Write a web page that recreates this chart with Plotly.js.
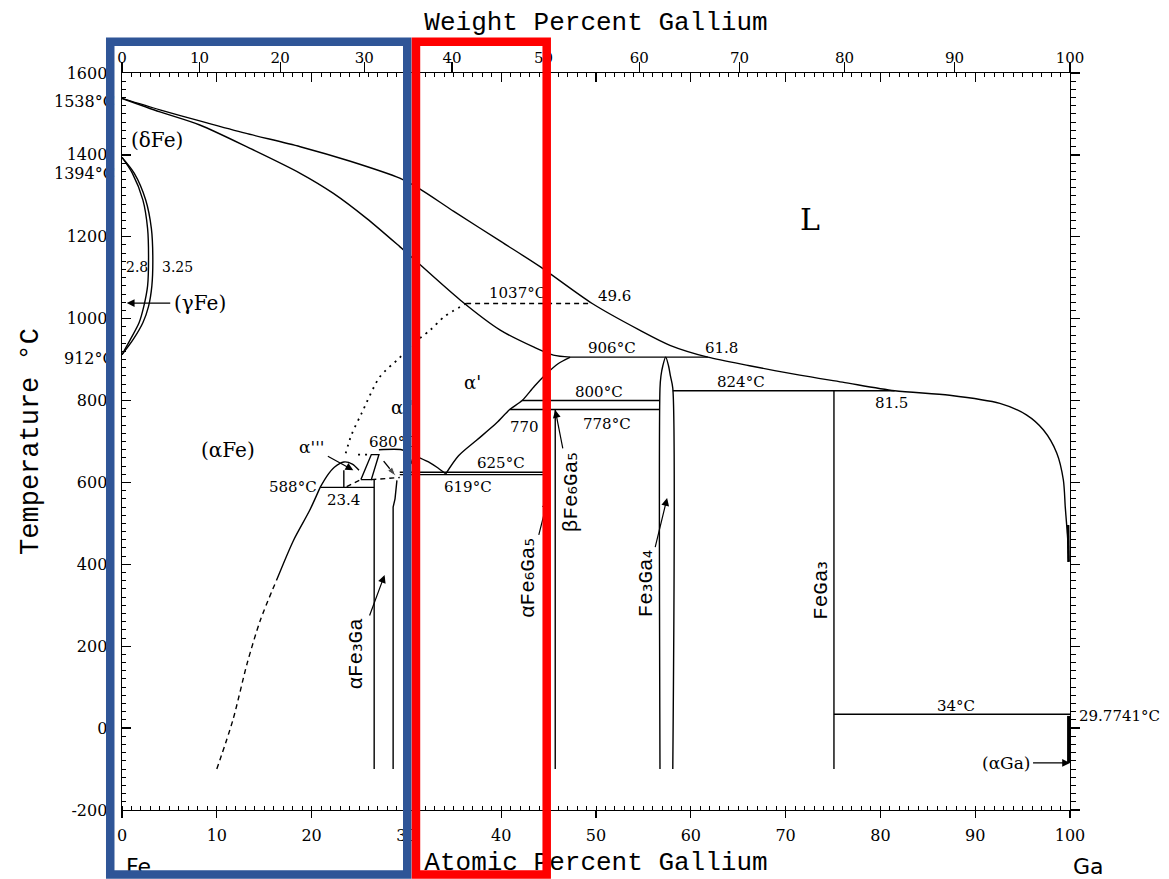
<!DOCTYPE html>
<html>
<head>
<meta charset="utf-8">
<script src="https://cdn.plot.ly/plotly-3.0.1.min.js"></script>
<style>html,body{margin:0;padding:0;background:#fff;}</style>
</head>
<body>
<div id="chart" style="width:1169px;height:879px;"></div>
<script>
// ---------- DATA (at.% Ga, temperature °C) ----------
const liquidusX = [0, 4, 8.2, 13, 18.8, 24, 29.3, 31.4, 35, 40, 44.1, 49.6, 54.6, 57.8, 61.8, 66.2, 71.5, 76, 81.5, 87.3, 92.6, 95.4, 97.2, 98.6, 99.3, 99.5, 99.65, 99.8, 99.85];
const liquidusT = [1538, 1510, 1483, 1453, 1420, 1385, 1343, 1317, 1262, 1188, 1127, 1037, 972, 935, 906, 885, 862, 845, 824, 813, 793, 765, 728, 672, 606, 540, 496, 450, 406];
const liqEndX = [99.8, 99.85], liqEndT = [496, 406];

const solidusX = [0, 4, 8.2, 13.5, 18.8, 22.3, 25.8, 29.3, 35.7, 39.9, 43.4, 45.5, 47.3];
const solidusT = [1538, 1505, 1473, 1416, 1355, 1306, 1245, 1176, 1045, 972, 931, 911, 906];

const gammaInX  = [0, 1.1, 2.2, 2.7, 2.8, 2.7, 2.3, 1.8, 0.9, 0];
const gammaOutX = [0, 1.3, 2.5, 3.1, 3.25, 3.15, 2.8, 2.2, 1.2, 0];
const gammaT    = [1394, 1355, 1290, 1220, 1150, 1080, 1030, 990, 950, 912];

const orderX = [36.3, 34, 32.5, 30.5, 29.3, 27.2, 25.3, 24.2, 23.5];
const orderT = [1037, 1005, 972, 935, 905, 858, 770, 716, 663];

const iso1037X = [36.3, 49.6], iso1037T = [1037, 1037];

const solvusDashX = [10.0, 11.7, 13.2, 14.6, 16.3];
const solvusDashT = [-100, 20, 158, 264, 361];
const solvusX = [16.3, 18.1, 19.8, 20.9];
const solvusT = [361, 459, 532, 588];
const domeA3X = [20.9, 21.6, 22.4, 23.4, 24.3, 25.0];
const domeA3T = [588, 615, 637, 650, 645, 630];

const iso588X = [20.9, 26.6], iso588T = [588, 588];
const comp234X = [23.4, 23.4], comp234T = [588, 630];
const dash607X = [23.7, 25.2], dash607T = [590, 607];
const trapX = [25.2, 26.3, 27.1, 26.3, 25.2];
const trapT = [607, 668, 668, 607, 607];
const dot668X = [24.9, 26.3], dot668T = [668, 668];
const low612X = [26.3, 29.3], low612T = [607, 612];
const iso680X = [27.1, 29.5, 30.0, 30.3, 30.6], iso680T = [680, 680, 675, 664, 645];
const fe3gaLeftX = [26.6, 26.6], fe3gaLeftT = [606, -100];
const fe3gaRightX = [29.0, 28.8, 28.6, 28.6], fe3gaRightT = [605, 560, 540, -100];
const domeRDotX = [30.8, 31.4], domeRDotT = [664, 660];
const domeRX = [31.4, 32.5, 33.3, 34.1], domeRT = [660, 648, 636, 622];
const pointerX = [27.6, 28.9], pointerT = [652, 615];

const iso625X = [29.3, 45.0], iso625T = [625, 625];
const iso619X = [29.3, 45.0], iso619T = [619, 619];
const alphaPrimeX = [34.1, 35.5, 37.4, 39.5, 40.9, 42.2, 43.5, 44.8, 46.0, 47.3];
const alphaPrimeT = [619, 665, 703, 745, 778, 800, 835, 866, 890, 906];

const aFe6Ga5X = [45.0, 45.0], aFe6Ga5T = [625, -100];
const bFe6Ga5X = [45.7, 45.7], bFe6Ga5T = [778, -100];
const iso800X = [42.2, 56.75], iso800T = [800, 800];
const iso778X = [40.9, 56.75], iso778T = [778, 778];
const iso906X = [47.3, 61.8], iso906T = [906, 906];
const fe3ga4X = [56.75, 56.75, 56.85, 57.05, 57.35, 57.65, 57.85, 58.1, 58.1];
const fe3ga4T = [-100, 830, 860, 885, 906, 885, 860, 830, -100];
const iso824X = [58.1, 81.5], iso824T = [824, 824];
const feGa3X = [75.1, 75.1], feGa3T = [824, -100];
const iso34X = [75.1, 100], iso34T = [34, 34];
const gaSolidX = [99.85, 99.85], gaSolidT = [29.8, -85];

const atTicks = [0, 10, 20, 30, 40, 50, 60, 70, 80, 90, 100];
const wtTicks = [0, 10, 20, 30, 40, 50, 60, 70, 80, 90, 100];
const tempTicks = [-200, 0, 200, 400, 600, 800, 1000, 1200, 1400, 1600];

// weight % -> atomic % conversion for the top axis (Fe 55.845, Ga 69.723)
const M_FE = 55.845, M_GA = 69.723;
function wtToAt(w) {
  const g = w / M_GA, f = (100 - w) / M_FE;
  return 100 * g / (g + f);
}

// ---------- TRACES ----------
const K = '#000';
const DASH = '5px,4px';
const DOT = '2px,5px';
function ln(x, y, opts) {
  opts = opts || {};
  return {
    type: 'scatter', mode: 'lines', x: x, y: y, hoverinfo: 'skip', showlegend: false,
    line: {color: K, width: opts.width || 1.4, dash: opts.dash || 'solid',
           shape: opts.spline ? 'spline' : 'linear', smoothing: 0.8}
  };
}
const pointer = ln(pointerX, pointerT);
pointer.mode = 'lines+markers';
pointer.marker = {symbol: 'arrow', angleref: 'previous', size: [0, 10], color: K};

const traces = [
  ln(liquidusX, liquidusT, {spline: true}),
  ln(liqEndX, liqEndT, {width: 2.6}),
  ln(solidusX, solidusT, {spline: true}),
  ln(gammaInX, gammaT, {spline: true}),
  ln(gammaOutX, gammaT, {spline: true}),
  ln(orderX, orderT, {spline: true, dash: DOT, width: 1.8}),
  ln(iso1037X, iso1037T, {dash: DASH}),
  ln(solvusDashX, solvusDashT, {spline: true, dash: DASH}),
  ln(solvusX, solvusT, {spline: true}),
  ln(domeA3X, domeA3T, {spline: true}),
  ln(iso588X, iso588T),
  ln(comp234X, comp234T),
  ln(dash607X, dash607T, {dash: DASH}),
  ln(trapX, trapT),
  ln(dot668X, dot668T, {dash: DOT, width: 1.8}),
  ln(low612X, low612T, {dash: DASH}),
  ln(iso680X, iso680T, {spline: true}),
  ln(fe3gaLeftX, fe3gaLeftT),
  ln(fe3gaRightX, fe3gaRightT),
  ln(domeRDotX, domeRDotT, {dash: DOT, width: 1.8}),
  ln(domeRX, domeRT, {spline: true}),
  pointer,
  ln(iso625X, iso625T),
  ln(iso619X, iso619T),
  ln(alphaPrimeX, alphaPrimeT, {spline: true}),
  ln(aFe6Ga5X, aFe6Ga5T),
  ln(bFe6Ga5X, bFe6Ga5T),
  ln(iso800X, iso800T),
  ln(iso778X, iso778T),
  ln(iso906X, iso906T),
  ln(fe3ga4X, fe3ga4T, {spline: true}),
  ln(iso824X, iso824T),
  ln(feGa3X, feGa3T),
  ln(iso34X, iso34T),
  ln(gaSolidX, gaSolidT, {width: 3}),
  // empty traces so the overlay axes are created
  {type: 'scatter', x: [], y: [], xaxis: 'x2', yaxis: 'y', hoverinfo: 'skip', showlegend: false},
  {type: 'scatter', x: [], y: [], xaxis: 'x3', yaxis: 'y', hoverinfo: 'skip', showlegend: false},
  {type: 'scatter', x: [], y: [], xaxis: 'x', yaxis: 'y2', hoverinfo: 'skip', showlegend: false}
];

// ---------- ANNOTATIONS ----------
const SERIF = 'DejaVu Serif';
const MONO = 'Liberation Mono';
// subscript digit drawn with a proportional font so it sits tight to the letters
function sub(d) { return '<span style="font-family:DejaVu Sans">' + d + '</span>'; }
function lab(x, y, text, o) {
  o = o || {};
  return {x: x, y: y, xref: o.xref || 'x', yref: 'y', text: text, showarrow: false,
          xanchor: o.xanchor || 'center', yanchor: 'middle', textangle: o.angle || 0,
          font: {family: o.family || SERIF, size: o.size || 15, color: K}};
}
// label centred at (lx, ly) with an arrow pointing at (x, y)
function labArrow(x, y, lx, ly, text, o) {
  o = o || {};
  return {x: x, y: y, ax: lx, ay: ly, xref: 'x', yref: 'y', axref: 'x', ayref: 'y',
          text: text, showarrow: true, arrowhead: 2, arrowsize: 1.3, arrowwidth: 1.2,
          arrowcolor: K, standoff: 0, startstandoff: 2, textangle: o.angle || 0,
          font: {family: o.family || SERIF, size: o.size || 15, color: K}};
}
const annotations = [
  lab(3.7, 1436, '(δFe)', {size: 20}),
  lab(11.2, 679, '(αFe)', {size: 20}),
  labArrow(0.5, 1038, 8.2, 1038, '(γFe)', {size: 20}),
  lab(72.6, 1241, 'L', {size: 30}),
  lab(1.55, 1126, '2.8', {size: 14}),
  lab(5.9, 1126, '3.25', {size: 14}),
  lab(41.7, 1063, '1037°C'),
  lab(52.0, 1055, '49.6'),
  lab(51.7, 928, '906°C'),
  lab(63.2, 928, '61.8'),
  lab(50.3, 821, '800°C'),
  lab(51.2, 742, '778°C'),
  lab(42.5, 735, '770'),
  lab(65.3, 846, '824°C'),
  lab(81.2, 794, '81.5'),
  lab(40.0, 647, '625°C'),
  lab(36.5, 589, '619°C'),
  lab(20.8, 588, '588°C', {xanchor: 'right'}),
  lab(23.4, 557, '23.4'),
  lab(25.8, 699, '680°C', {xanchor: 'left'}),
  labArrow(24.4, 630, 20.0, 686, 'α\'\'\'', {size: 17}),
  lab(37.0, 843, 'α\'', {size: 18}),
  lab(28.2, 782, 'α\'\'', {size: 18, xanchor: 'left'}),
  lab(88.0, 54, '34°C'),
  lab(1.007, 29, '29.7741°C', {xref: 'paper', xanchor: 'left'}),
  labArrow(100, -85, 93.2, -85, '(αGa)', {size: 17}),
  lab(-0.0053, 1530, '1538°C', {xref: 'paper', xanchor: 'right', size: 16}),
  lab(-0.0053, 1355, '1394°C', {xref: 'paper', xanchor: 'right', size: 16}),
  lab(-0.0053, 902, '912°C', {xref: 'paper', xanchor: 'right', size: 16}),
  labArrow(27.7, 374, 24.6, 180, 'αFe' + sub('₃') + 'Ga', {family: MONO, size: 21, angle: -90}),
  labArrow(44.9, 557, 42.8, 366, 'αFe' + sub('₆') + 'Ga' + sub('₅'), {family: MONO, size: 21, angle: -90}),
  labArrow(45.7, 777, 47.4, 577, 'βFe' + sub('₆') + 'Ga' + sub('₅'), {family: MONO, size: 21, angle: -90}),
  labArrow(57.5, 562, 55.3, 352, 'Fe' + sub('₃') + 'Ga' + sub('₄'), {family: MONO, size: 21, angle: -90}),
  lab(73.6, 337, 'FeGa' + sub('₃'), {family: MONO, size: 21, angle: -90}),
  {x: 0.017, y: -0.077, xref: 'paper', yref: 'paper', text: 'Fe', showarrow: false,
   xanchor: 'center', yanchor: 'middle', font: {family: 'DejaVu Sans', size: 22, color: K}},
  {x: 1.019, y: -0.077, xref: 'paper', yref: 'paper', text: 'Ga', showarrow: false,
   xanchor: 'center', yanchor: 'middle', font: {family: 'DejaVu Sans', size: 22, color: K}}
];

// ---------- HIGHLIGHT BOXES (paper coords) ----------
const shapes = [
  {type: 'rect', xref: 'paper', yref: 'paper', x0: -0.0124, x1: 0.3009, y0: -0.0875, y1: 1.0424,
   line: {color: '#2f5597', width: 8.5}, fillcolor: 'rgba(0,0,0,0)', layer: 'above'},
  {type: 'rect', xref: 'paper', yref: 'paper', x0: 0.3101, x1: 0.4480, y0: -0.0875, y1: 1.0424,
   line: {color: '#ff0000', width: 8.5}, fillcolor: 'rgba(0,0,0,0)', layer: 'above'}
];

const tickFont = {family: SERIF, size: 16, color: K};
const layout = {
  width: 1169, height: 879,
  margin: {l: 122, r: 99, t: 73, b: 69},
  paper_bgcolor: '#ffffff', plot_bgcolor: '#ffffff',
  showlegend: false, hovermode: false,
  xaxis: {
    range: [0, 100], showgrid: false, zeroline: false, showline: true, linecolor: K, linewidth: 1.4,
    tickmode: 'array', tickvals: atTicks, ticktext: atTicks.map(String),
    ticks: 'outside', ticklen: 7, tickwidth: 1.3, tickcolor: K, tickfont: tickFont, ticklabelstandoff: 3,
    minor: {dtick: 1, ticks: 'inside', ticklen: 4, tickwidth: 1, tickcolor: K},
    title: {text: 'Atomic Percent Gallium', font: {family: MONO, size: 26, color: K}, standoff: 8}
  },
  xaxis2: {
    overlaying: 'x', side: 'top', anchor: 'y', range: [0, 100], showgrid: false, zeroline: false,
    showline: true, linecolor: K, linewidth: 1.4,
    tickmode: 'array', tickvals: wtTicks.map(wtToAt), ticktext: wtTicks.map(String),
    ticks: 'outside', ticklen: 10, tickwidth: 1.3, tickcolor: K,
    tickfont: {family: SERIF, size: 15, color: K}, ticklabelstandoff: -7,
    title: {text: 'Weight Percent Gallium', font: {family: MONO, size: 26, color: K}, standoff: 10}
  },
  xaxis3: {
    overlaying: 'x', side: 'top', anchor: 'y', range: [0, 100], showgrid: false, zeroline: false,
    showline: false, showticklabels: false,
    tickmode: 'array', tickvals: atTicks,
    ticks: 'inside', ticklen: 9, tickwidth: 1.3, tickcolor: K,
    minor: {dtick: 1, ticks: 'inside', ticklen: 4, tickwidth: 1, tickcolor: K}
  },
  yaxis: {
    range: [-200, 1600], showgrid: false, zeroline: false, showline: true, linecolor: K, linewidth: 1.4,
    tickmode: 'array', tickvals: tempTicks, ticktext: tempTicks.map(String),
    ticks: 'inside', ticklen: 9, tickwidth: 1.3, tickcolor: K, tickfont: tickFont, ticklabelstandoff: 10,
    minor: {dtick: 20, ticks: 'inside', ticklen: 4, tickwidth: 1, tickcolor: K},
    title: {text: 'Temperature °C', font: {family: MONO, size: 27, color: K}, standoff: 20}
  },
  yaxis2: {
    overlaying: 'y', side: 'right', anchor: 'x', range: [-200, 1600], showgrid: false, zeroline: false,
    showline: true, linecolor: K, linewidth: 1.4, showticklabels: false,
    tickmode: 'array', tickvals: tempTicks,
    ticks: 'outside', ticklen: 9, tickwidth: 1.3, tickcolor: K,
    minor: {dtick: 20, ticks: 'outside', ticklen: 5, tickwidth: 1, tickcolor: K}
  },
  annotations: annotations,
  shapes: shapes
};

Plotly.newPlot('chart', traces, layout, {displayModeBar: false, staticPlot: true}).then(function (gd) {
  // draw the highlight boxes above the text layer, as in the reference
  var above = gd.querySelector('.layer-above');
  if (above && above.parentNode) above.parentNode.appendChild(above);
});
</script>
</body>
</html>
